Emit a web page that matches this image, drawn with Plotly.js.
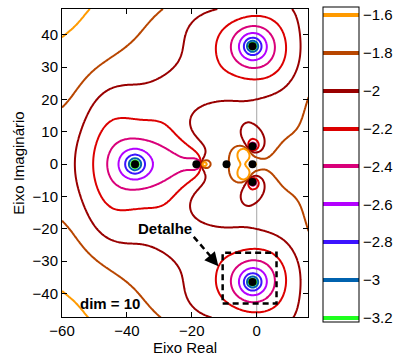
<!DOCTYPE html>
<html><head><meta charset="utf-8">
<script src="https://cdn.plot.ly/plotly-3.0.1.min.js"></script>
<style>html,body{margin:0;padding:0;background:#fff}#chart{width:398px;height:362px}</style>
</head><body><div id="chart"></div>
<script>
// eigenvalues (black dots)
const eigRe = [-37.5, -1.3, -1.3, -18.6, -9.3, -1.3, -1.3, -1.3];
const eigIm = [0, 36.5, -36.5, 0, 0, 0, 5.5, -5.5];
// pole/residue model of the mapped function (upper half; complex poles also act with their conjugate)
const poleRe = [-37.5, -1.3, -18.08, -9.3, -1.3, -1.3, -169.2];
const poleIm = [0, 36.5, 0, 0, 0, 5.5, 0];
const resRe = [2423.8, -1566.2, -246.2, 0.7, -15.0, 229.4, 4202.6];
const resIm = [0, -609.6, 0, 0, 0, 72.4, 0];
const directTerm = -37.42;
// contour levels and colours
const levels = [-3.2, -3.0, -2.8, -2.6, -2.4, -2.2, -2.0, -1.8, -1.6];
const levelColors = ['#1EFF1E', '#0062AE', '#3C14FF', '#B400FF', '#D9007A', '#DC0000', '#990000', '#B84600', '#FF9A00'];
const xTicks = [-60, -40, -20, 0];
const yTicks = [-40, -30, -20, -10, 0, 10, 20, 30, 40];
// contour points: x, y, level, weight (upper half)
const obs = [
 [-60,39.6,-1.6,2],[-51.6,47.5,-1.6,2],[-7.3,0,-1.6,2],[-3.6,0,-1.6,2],[-5.45,1.9,-1.6,2],
 [-60,17.5,-1.8,1],[-45.3,32.4,-1.8,1],[-29,47.8,-1.8,1],[-15.5,0,-1.8,2],[-15,3.1,-1.8,1],[-12.4,6.7,-1.8,1],[-8.3,7,-1.8,1],[-1.6,3.1,-1.8,1],[2,3.6,-1.8,1],[7.1,7.2,-1.8,2],[12.1,13.3,-1.8,2],[15.8,17.8,-1.8,2],[-11.3,0.5,-1.8,1],
 [-56,0,-2,1],[-54.5,9.2,-2,1],[-51.4,16.4,-2,1],[-45,23,-2,1],[-36,25.7,-2,1],[-29.6,27.3,-2,1],[-25.6,29.8,-2,1],[-23.7,33.9,-2,1],[-17.8,46.2,-2,1],[-13.4,48,-2,1],
 [-16.8,0,-2,2],[-17.5,7.2,-2,1],[-18,13.3,-2,1],[-17.5,15.4,-2,1],[-15.4,18.5,-2,1],[-11.3,19.7,-2,1],[0,19.7,-2,1],[6.1,20.5,-2,1],[12.8,34.9,-2,1],[12.2,42.1,-2,1],[10.2,48,-2,1],
 [-4.9,5.6,-2,1],[2.0,5.6,-2,1],[-1.45,11.1,-2,1],[-1.45,2.0,-2,1],
 [-49.9,0,-2.2,1],[-37.5,14.9,-2.2,1],[-47.3,10.8,-2.2,1],[-23.7,7.7,-2.2,1],[-20.6,4.6,-2.2,1],[-17.2,0,-2.2,2],[-12.7,37,-2.2,1],[10.7,37,-2.2,1],[-1.3,46.2,-2.2,1],[-1.3,26,-2.2,1],[-3.7,5.9,-2.2,1],[0.4,5.9,-2.2,1],[-1.6,8.8,-2.2,1],
 [-45.6,0,-2.4,1],[-26.6,0,-2.4,1],[-22.2,0,-2.4,2],[-17.6,0,-2.4,2],[-19.8,1.9,-2.4,2],[-37.5,7.5,-2.4,1],[-8.3,37,-2.4,1],[6.1,37,-2.4,1],
 [-43.2,0,-2.6,1],[-31.2,0,-2.6,1],[-5.5,37,-2.6,1],[2.8,37,-2.6,1],
 [-40.6,0,-2.8,1],[-34.4,0,-2.8,1],[-3.9,36.5,-2.8,1],[1.3,36.5,-2.8,1],
 [15.8,0,-1.7,2],[10,0,-1.7,1],[15.8,8,-1.75,2],[5,0.5,-1.72,1],[-13,0,-1.7,1],[-13,3,-1.72,1],[-11,4,-1.72,1],
 [-8,14,-1.9,1],[5,13,-1.9,1],[15.8,30,-1.9,2],[15.8,46,-1.93,2],[14,25,-1.88,2],[14,40,-1.95,2],
 [-20,25,-2.1,1],[-16,30,-2.1,1],[-18,40,-2.05,1],[-8,46,-2.08,1],
 [-8.3,0,-1.7,1],[-9.3,1.2,-1.75,1],[-0.3,0,-1.72,1],[-2.3,0,-1.7,1],[-1.3,1.2,-1.78,1],
 [-55,30,-1.7,1],[-45,45,-1.68,1],[-60,48,-1.55,1],[-24,0,-2.35,1],[-30,10,-2.3,1],
 [-40,40,-1.75,1],[-30,38,-1.9,1],[-50,25,-1.9,1],[-58,5,-1.97,1],[10,20,-1.9,1],[-25,15,-2.1,1],
 [-30,20,-2.05,1],[-12,10,-1.88,1],[-3,15,-1.95,1],[8,28,-2.1,1],[-16.2,0,-1.9,2],[-14,0,-1.72,2],
 [4,0,-1.72,3],[8,0,-1.72,3],[12,3,-1.72,3],[15.8,5,-1.74,3],[9.5,10.2,-1.8,2],[13.9,15.5,-1.8,2],[4.5,5.4,-1.8,2],
 [6,12,-1.88,1],[12,20,-1.88,1]
];

function zModel(x, y) {
  let gr = directTerm, gi = 0;
  for (let j = 0; j < poleRe.length; j++) {
    const pr = poleRe[j], pim = poleIm[j], rr = resRe[j], ri = resIm[j];
    let dx = x - pr, dy = y - pim, d2 = dx*dx + dy*dy + 1e-9;
    gr += (rr*dx + ri*dy)/d2; gi += (ri*dx - rr*dy)/d2;
    if (pim !== 0) {
      dy = y + pim; d2 = dx*dx + dy*dy + 1e-9;
      gr += (rr*dx - ri*dy)/d2; gi += (-ri*dx - rr*dy)/d2;
    }
  }
  return Math.min(-1.0, Math.max(-4.5, -Math.log10(Math.max(Math.hypot(gr, gi), 1e-6))));
}
// smooth correction fitted to the read contour points (symmetric Gaussian basis, ridge least squares)
const SIG = 8, LAM = 0.03;
const cen = [];
for (let cx = -66; cx <= 20; cx += 10) for (let cy = 0; cy <= 60; cy += 10) cen.push([cx, cy]);
function basis(x, y, c) {
  const a = Math.exp(-((x-c[0])**2 + (y-c[1])**2)/(2*SIG*SIG));
  return c[1] > 0 ? a + Math.exp(-((x-c[0])**2 + (y+c[1])**2)/(2*SIG*SIG)) : a;
}
const K = cen.length;
const A = Array.from({length:K}, ()=>new Array(K).fill(0)), bvec = new Array(K).fill(0);
for (const o of obs) {
  let r = o[2] - Math.max(-3.6, zModel(o[0], o[1]));
  r = Math.max(-0.35, Math.min(0.35, r));
  const ph = cen.map(c=>basis(o[0], o[1], c));
  for (let i = 0; i < K; i++) { bvec[i] += o[3]*ph[i]*r; for (let j = 0; j < K; j++) A[i][j] += o[3]*ph[i]*ph[j]; }
}
for (let i = 0; i < K; i++) A[i][i] += LAM;
const M = A.map((row,i)=>row.concat([bvec[i]]));
for (let i = 0; i < K; i++) {
  let p = i; for (let r = i+1; r < K; r++) if (Math.abs(M[r][i]) > Math.abs(M[p][i])) p = r;
  [M[i], M[p]] = [M[p], M[i]];
  for (let r = i+1; r < K; r++) { const f = M[r][i]/M[i][i]; for (let c = i; c <= K; c++) M[r][c] -= f*M[i][c]; }
}
const W = new Array(K).fill(0);
for (let i = K-1; i >= 0; i--) { let s = M[i][K]; for (let j = i+1; j < K; j++) s -= M[i][j]*W[j]; W[i] = s/M[i][i]; }
function corr(x, y) { let s = 0; for (let k = 0; k < K; k++) s += W[k]*basis(x, y, cen[k]); return s; }

const gx = [], gy = [];
for (let x = -60; x <= 16.01; x += 0.5) gx.push(+x.toFixed(2));
for (let y = -48; y <= 48.01; y += 0.5) gy.push(+y.toFixed(2));
const Z = gy.map(y => gx.map(x => zModel(x, y) + corr(x, y)));

const zmin = -3.222, zmax = -1.558;
const cs = [];
for (let k = 0; k < levels.length; k++) {
  const lo = k === 0 ? 0 : 0.0733 + 0.1202*(k-1);
  const hi = k === levels.length-1 ? 1 : 0.0733 + 0.1202*k;
  cs.push([lo, levelColors[k]]); cs.push([hi, levelColors[k]]);
}
const FONT = 'Liberation Sans, Arial, Helvetica, sans-serif';
const contourOpts = {start:levels[0], end:levels[levels.length-1], size:0.2, coloring:'lines'};
const traces = [
  {type:'contour', x:gx, y:gy, z:Z, autocontour:false, contours:contourOpts,
   line:{width:2, smoothing:0.6}, colorscale:cs, zauto:false, zmin:zmin, zmax:zmax,
   hoverinfo:'skip', showscale:false},
  // copy used only for the colour bar (thicker level lines, placed outside the axes range)
  {type:'contour', x:[100,101], y:[100,101], z:[[-5,-5],[-5,-5]], autocontour:false, contours:contourOpts,
   line:{width:4}, colorscale:cs, zauto:false, zmin:zmin, zmax:zmax, hoverinfo:'skip', showscale:true,
   colorbar:{x:1.061, xanchor:'left', xpad:0, y:0.495, yanchor:'middle', ypad:0,
     thickness:36, thicknessmode:'pixels', len:1.023, lenmode:'fraction',
     outlinecolor:'#000', outlinewidth:1, ticks:'', tickvals:levels,
     tickfont:{size:15, family:FONT, color:'#000'}}},
  {type:'scatter', mode:'markers', x:eigRe, y:eigIm, marker:{color:'#000', size:8}, hoverinfo:'skip', showlegend:false}
];
const layout = {
  width:398, height:362, margin:{l:62, r:90, t:7, b:45}, paper_bgcolor:'#fff', plot_bgcolor:'#fff',
  showlegend:false, font:{family:FONT, color:'#000', size:15},
  xaxis:{range:[-60,15.8], tickvals:xTicks, ticks:'inside', ticklen:5, tickcolor:'#000', showline:true, linecolor:'#000', linewidth:1,
    mirror:'ticks', showgrid:false, zeroline:false, tickfont:{size:15}, title:{text:'Eixo Real', font:{size:15}, standoff:2}},
  yaxis:{range:[-47.3,48], tickvals:yTicks, ticks:'inside', ticklen:5, tickcolor:'#000', showline:true, linecolor:'#000', linewidth:1,
    mirror:'ticks', showgrid:false, zeroline:false, tickfont:{size:15}, title:{text:'Eixo Imaginário', font:{size:15}, standoff:4}},
  shapes:[
    {type:'line', xref:'x', yref:'paper', x0:0, x1:0, y0:0, y1:1, line:{color:'#A6A6A6', width:1}, layer:'below'},
    {type:'rect', xref:'x', yref:'y', x0:-10.5, x1:6.1, y0:-43.1, y1:-27.4, line:{color:'#000', width:2.5, dash:'6px,4px'}},
    {type:'line', xref:'x', yref:'y', x0:-19.4, y0:-22.5, x1:-12.6, y1:-30.4, line:{color:'#000', width:2.5, dash:'6px,4px'}}
  ],
  annotations:[
    {x:-11.8, y:-31.6, ax:-8, ay:-9.5, showarrow:true, arrowhead:2, arrowsize:1.1, arrowwidth:2.5, arrowcolor:'#000', text:''},
    {x:-28.3, y:-20, text:'<b>Detalhe</b>', showarrow:false, font:{size:15}},
    {x:-45.2, y:-43.1, text:'<b>dim = 10</b>', showarrow:false, font:{size:15}}
  ]
};
Plotly.newPlot('chart', traces, layout, {staticPlot:true, displayModeBar:false});
</script></body></html>
